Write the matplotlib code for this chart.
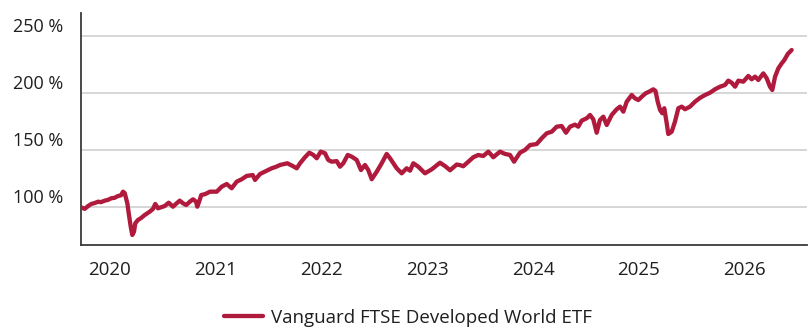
import matplotlib
matplotlib.use("Agg")
import matplotlib.pyplot as plt
import matplotlib.transforms as mtransforms

plt.rcParams['font.family'] = ['Open Sans', 'DejaVu Sans']

# Fund value relative to start (%), sampled along a decimal-year time axis
years = [
    2019.726, 2019.761, 2019.792, 2019.823, 2019.858, 2019.887, 2019.915, 2019.950,
    2019.981, 2020.012, 2020.043, 2020.076, 2020.104, 2020.123, 2020.139, 2020.151,
    2020.164, 2020.177, 2020.196, 2020.211, 2020.227, 2020.239, 2020.265, 2020.293,
    2020.328, 2020.375, 2020.406, 2020.428, 2020.454, 2020.482, 2020.517, 2020.555,
    2020.595, 2020.624, 2020.659, 2020.690, 2020.721, 2020.756, 2020.785, 2020.813,
    2020.825, 2020.841, 2020.863, 2020.898, 2020.945, 2021.009, 2021.056, 2021.103,
    2021.150, 2021.198, 2021.245, 2021.292, 2021.349, 2021.371, 2021.418, 2021.481,
    2021.528, 2021.569, 2021.607, 2021.676, 2021.727, 2021.765, 2021.796, 2021.843,
    2021.884, 2021.922, 2021.954, 2021.992, 2022.032, 2022.063, 2022.095, 2022.143,
    2022.174, 2022.205, 2022.247, 2022.285, 2022.332, 2022.372, 2022.410, 2022.441,
    2022.474, 2022.521, 2022.568, 2022.615, 2022.647, 2022.678, 2022.710, 2022.757,
    2022.804, 2022.836, 2022.867, 2022.914, 2022.977, 2023.041, 2023.119, 2023.166,
    2023.214, 2023.277, 2023.308, 2023.339, 2023.387, 2023.434, 2023.481, 2023.528,
    2023.576, 2023.623, 2023.686, 2023.734, 2023.781, 2023.819, 2023.875, 2023.923,
    2023.970, 2024.033, 2024.080, 2024.128, 2024.175, 2024.222, 2024.269, 2024.310,
    2024.348, 2024.395, 2024.426, 2024.458, 2024.506, 2024.537, 2024.568, 2024.600,
    2024.631, 2024.663, 2024.695, 2024.742, 2024.789, 2024.821, 2024.852, 2024.884,
    2024.931, 2024.962, 2024.994, 2025.026, 2025.063, 2025.095, 2025.135, 2025.156,
    2025.177, 2025.199, 2025.220, 2025.239, 2025.262, 2025.277, 2025.309, 2025.340,
    2025.372, 2025.404, 2025.435, 2025.482, 2025.529, 2025.577, 2025.624, 2025.671,
    2025.718, 2025.766, 2025.813, 2025.844, 2025.876, 2025.908, 2025.939, 2025.986,
    2026.033, 2026.065, 2026.097, 2026.128, 2026.175, 2026.207, 2026.238, 2026.260,
    2026.286, 2026.317, 2026.349, 2026.374, 2026.406, 2026.443,
]

values = [
    100.0, 98.6, 101.0, 102.9, 103.8, 104.9, 104.5, 105.8,
    106.5, 107.9, 108.3, 109.9, 110.5, 113.7, 112.5, 108.0,
    103.5, 94.7, 83.0, 75.7, 78.6, 86.0, 88.9, 90.5,
    93.2, 96.1, 98.5, 102.9, 99.1, 100.0, 101.1, 104.0,
    100.5, 103.0, 105.8, 103.5, 102.0, 105.0, 107.0, 105.0,
    100.5, 104.5, 110.8, 111.5, 113.7, 113.7, 118.1, 120.4,
    116.7, 122.5, 124.6, 127.5, 128.3, 124.0, 129.2, 132.1,
    134.2, 135.5, 137.1, 138.6, 136.2, 134.2, 138.6, 143.9,
    147.9, 145.9, 143.0, 148.8, 147.4, 141.5, 140.0, 140.5,
    135.6, 138.6, 145.9, 144.4, 141.5, 132.7, 137.1, 132.7,
    124.6, 131.2, 138.6, 146.8, 143.0, 138.6, 134.2, 129.8,
    134.2, 132.1, 138.6, 135.6, 129.8, 133.3, 139.1, 136.2,
    132.5, 137.5, 137.0, 136.0, 140.0, 143.9, 145.9, 145.0,
    148.8, 143.9, 148.8, 146.8, 145.9, 140.0, 147.9, 150.3,
    154.6, 155.5, 160.5, 164.9, 166.3, 170.7, 171.3, 165.4,
    170.7, 172.5, 170.7, 176.0, 178.1, 181.0, 177.2, 165.4,
    176.6, 179.5, 172.2, 181.0, 186.0, 188.3, 183.9, 192.6,
    198.5, 195.6, 194.1, 197.0, 200.0, 201.4, 203.5, 202.0,
    192.6, 185.4, 182.5, 186.9, 173.7, 164.3, 166.3, 175.1,
    186.9, 188.3, 186.0, 188.3, 192.6, 196.0, 198.5, 200.5,
    203.5, 205.8, 207.3, 211.1, 209.3, 205.8, 211.1, 210.2,
    215.2, 212.3, 214.6, 211.7, 217.5, 213.2, 205.8, 202.9,
    214.6, 221.9, 226.3, 229.2, 234.5, 238.0,
]

series_name = "Vanguard FTSE Developed World ETF"
year_ticks = [2020, 2021, 2022, 2023, 2024, 2025, 2026]
pct_ticks = [100, 150, 200, 250]

line_color = "#b01b3d"
text_color = "#1f1f1f"

fig = plt.figure(figsize=(8.11, 3.29), dpi=100)
ax = fig.add_axes([81 / 811, 1 - 245 / 329, (807 - 81) / 811, (245 - 12.5) / 329])

ax.plot(years, values, color=line_color, lw=3.1, solid_joinstyle="round",
        solid_capstyle="round", label=series_name, zorder=3)

ax.set_xlim(2019.726, 2026.588)
ax.set_ylim(66.9, 270.9)

ax.set_xticks(year_ticks)
ax.set_xticklabels([str(y) for y in year_ticks])
ax.set_yticks(pct_ticks)
ax.set_yticklabels([f"{p} %" for p in pct_ticks])

ax.tick_params(axis="both", length=0, colors=text_color)
ax.tick_params(axis="x", pad=11.5, labelsize=13.5)
ax.tick_params(axis="y", pad=13, labelsize=13)

# y labels sit just above their gridlines
shift = mtransforms.ScaledTranslation(0, 3 / 72, fig.dpi_scale_trans)
for lab in ax.get_yticklabels():
    lab.set_verticalalignment("baseline")
    lab.set_transform(lab.get_transform() + shift)

ax.grid(axis="y", color="#d0d0d0", lw=1.2)
ax.set_axisbelow(True)

for side in ("top", "right"):
    ax.spines[side].set_visible(False)
for side in ("left", "bottom"):
    ax.spines[side].set_color("#3a3a3a")
    ax.spines[side].set_linewidth(1.3)

leg = fig.legend(loc="lower center", bbox_to_anchor=(0.503, -0.045), frameon=False,
                 fontsize=13.5, handlelength=2.1, handletextpad=0.4)
for t in leg.get_texts():
    t.set_color(text_color)

fig.savefig("out.png", dpi=100)
